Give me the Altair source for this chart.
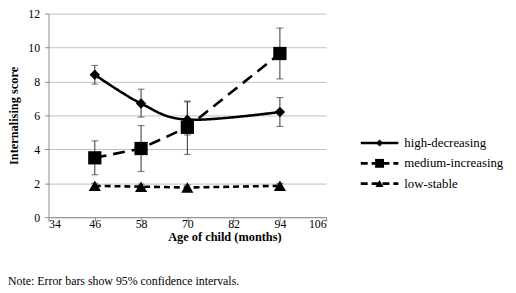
import altair as alt
import pandas as pd

series = ["high-decreasing", "medium-increasing", "low-stable"]
ages = [46, 58, 70, 94]
high_vals = [8.4, 6.7, 5.75, 6.2]
high_lo = [7.85, 5.9, 4.85, 5.35]
high_hi = [8.95, 7.55, 6.85, 7.05]
med_vals = [3.5, 4.05, 5.3, 9.65]
med_lo = [2.5, 2.7, 3.7, 8.15]
med_hi = [4.5, 5.4, 6.8, 11.15]
low_vals = [1.85, 1.8, 1.75, 1.85]
low_lo = [1.7, 1.65, 1.6, 1.7]
low_hi = [2.0, 1.95, 1.9, 2.0]
x_ticks = [34, 46, 58, 70, 82, 94, 106]
y_ticks = [0, 2, 4, 6, 8, 10, 12]
note = "Note: Error bars show 95% confidence intervals."

rows = []
for name, v, lo, hi in [
    (series[0], high_vals, high_lo, high_hi),
    (series[1], med_vals, med_lo, med_hi),
    (series[2], low_vals, low_lo, low_hi),
]:
    for a, vv, l, h in zip(ages, v, lo, hi):
        rows.append({"series": name, "age": a, "value": vv, "lo": l, "hi": h})
df = pd.DataFrame(rows)

FONT = "'Liberation Serif', 'Times New Roman', Times, 'DejaVu Serif', serif"
xs = alt.Scale(domain=[34, 106], nice=False, zero=False)
ys = alt.Scale(domain=[0, 12], nice=False)

x_axis = alt.Axis(
    values=x_ticks, title="Age of child (months)", grid=False,
    domainColor="#8c8c8c", tickColor="#8c8c8c", tickSize=4, labelOverlap=False,
    labelPadding=-3, titleX=178, titleY=14, titleBaseline="top", titleAlign="center")
y_axis = alt.Axis(
    values=y_ticks, title="Internalising score", grid=True, gridColor="#c0c0c0",
    domainColor="#8c8c8c", tickColor="#8c8c8c", tickSize=4, labelOverlap=False,
    labelPadding=5, titlePadding=7)


def X(field):
    return alt.X(field, scale=xs, axis=x_axis)


def Y(field):
    return alt.Y(field, scale=ys, axis=y_axis)


base = alt.Chart(df)

styles = {
    series[0]: dict(dash=[1, 0], shape="diamond", size=110, interp="cardinal"),
    series[1]: dict(dash=[12, 7], shape="square", size=180, interp="linear"),
    series[2]: dict(dash=[6, 4], shape="triangle-up", size=150, interp="linear"),
}

err = base.mark_rule(color="#333333", strokeWidth=1).encode(
    x=X("age:Q"), y=Y("lo:Q"), y2="hi:Q")
cap_lo = base.mark_tick(color="#333333", thickness=1, size=7, orient="horizontal").encode(
    x=X("age:Q"), y=Y("lo:Q"))
cap_hi = base.mark_tick(color="#333333", thickness=1, size=7, orient="horizontal").encode(
    x=X("age:Q"), y=Y("hi:Q"))

layers = [err, cap_lo, cap_hi]
for s in series:
    st = styles[s]
    sub = base.transform_filter(alt.datum.series == s)
    layers.append(sub.mark_line(color="black", strokeWidth=2.6, strokeDash=st["dash"],
                                interpolate=st["interp"]).encode(x=X("age:Q"), y=Y("value:Q")))
for s in series:
    st = styles[s]
    sub = base.transform_filter(alt.datum.series == s)
    layers.append(sub.mark_point(color="black", filled=True, opacity=1, shape=st["shape"],
                                 size=st["size"]).encode(x=X("age:Q"), y=Y("value:Q")))
main = alt.layer(*layers)

# legend
leg_rows = []
for i, s in enumerate(series):
    for p in [0, 1, 2]:
        leg_rows.append({"series": s, "row": i, "pos": p})
ldf = pd.DataFrame(leg_rows)
lx = alt.Scale(domain=[0, 2], range=[316, 354])
ly = alt.Scale(domain=[0, 2], range=[131, 172])
lbase = alt.Chart(ldf)
leg_layers = []
for s in series:
    st = styles[s]
    sub = lbase.transform_filter(alt.datum.series == s)
    leg_layers.append(sub.mark_line(color="black", strokeWidth=2.6,
                                    strokeDash=[7, 4] if s != series[0] else [1, 0]).encode(
        x=alt.X("pos:Q", scale=lx, axis=None), y=alt.Y("row:Q", scale=ly, axis=None)))
    leg_layers.append(sub.transform_filter(alt.datum.pos == 1).mark_point(
        color="black", filled=True, opacity=1, shape=st["shape"],
        size=st["size"] * 0.45).encode(
        x=alt.X("pos:Q", scale=lx, axis=None), y=alt.Y("row:Q", scale=ly, axis=None)))
leg_text = lbase.transform_filter(alt.datum.pos == 2).mark_text(
    align="left", baseline="middle", dx=6, font=FONT, fontSize=13, color="black").encode(
    x=alt.X("pos:Q", scale=lx, axis=None), y=alt.Y("row:Q", scale=ly, axis=None),
    text="series:N")
leg_layers.append(leg_text)
legend = alt.layer(*leg_layers)

chart = alt.layer(main, legend).resolve_scale(x="independent", y="independent").properties(
    width=281, height=206,
    autosize=alt.AutoSizeParams(type="none"),
    padding={"left": 41, "top": 4, "right": 184, "bottom": 75},
    title=alt.Title(note, orient="bottom", anchor="start", frame="group", dx=-41,
                    offset=33, font=FONT, fontSize=12, fontWeight="normal", color="black"),
).configure_view(stroke=None).configure_axis(
    labelFont=FONT, labelFontSize=12, labelColor="black",
    titleFont=FONT, titleFontSize=12.5, titleFontWeight="bold", titleColor="black")

chart.save("out.html", embed_options={"renderer": "svg", "actions": False})
